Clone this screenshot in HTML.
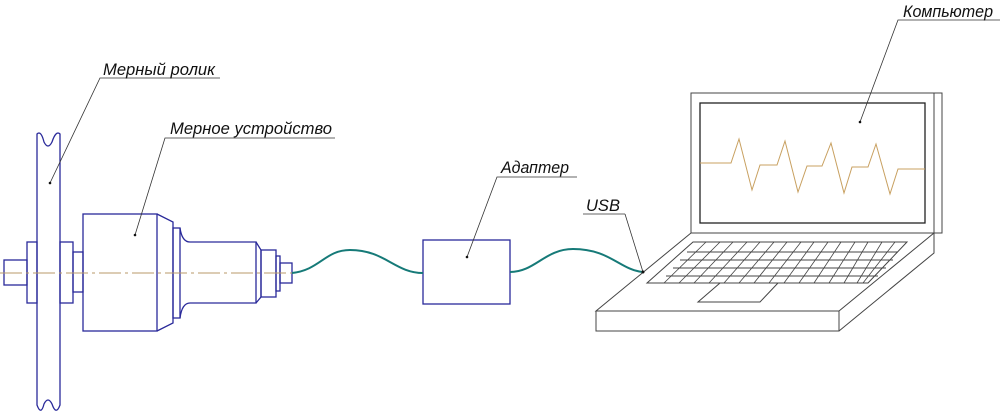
<!DOCTYPE html>
<html><head><meta charset="utf-8"><style>
html,body{margin:0;padding:0;background:#fff;width:1000px;height:412px;overflow:hidden}
svg{display:block}
text{font-family:"Liberation Sans",sans-serif;font-style:italic;font-size:17px;fill:#111}
</style></head><body>
<svg width="1000" height="412" viewBox="0 0 1000 412" xmlns="http://www.w3.org/2000/svg">
<g fill="none" stroke="#2a2a9a" stroke-width="1.3">
<!-- roller -->
<path d="M37,134 Q41,130 44,142 Q48,150 52,142 Q56,130 60,134 L60,405 Q56,416 52,404 Q48,396 44,404 Q41,416 37,405 Z"/>
<rect x="4" y="260" width="23" height="25"/>
<rect x="27" y="242" width="10" height="61"/>
<rect x="60" y="242" width="13" height="61"/>
<rect x="73" y="252" width="10" height="40"/>
<!-- body -->
<rect x="83" y="214" width="74" height="117"/>
<path d="M157,214 L173,222 L173,323 L157,331"/>
<rect x="173" y="228" width="7" height="90"/>
<path d="M180,228 Q182,242 190,242 L256,242 L256,303 L190,303 Q182,303 180,318"/>
<path d="M256,242 L261,250 L261,297 L256,303"/>
<rect x="261" y="250" width="15" height="47"/>
<rect x="276" y="256" width="4" height="35"/>
<rect x="280" y="263" width="12" height="20"/>
<!-- adapter -->
<rect x="423" y="240" width="87" height="64"/>
</g>
<line x1="0" y1="273" x2="292" y2="273" stroke="#b89a6a" stroke-width="1" stroke-dasharray="22,4,3,4"/>
<g fill="none" stroke="#167a78" stroke-width="2">
<path d="M292,273 C320,270 325,250 350,250 C385,250 395,273 423,273"/>
<path d="M510,272 C535,272 545,249 573,249 C610,249 620,270 643,272"/>
</g>
<!-- laptop -->
<g fill="none" stroke="#444" stroke-width="1">
<rect x="691" y="93" width="243" height="140"/>
<path d="M934,93 L942,93 L942,233 L934,233"/>
<rect x="700" y="103" width="225" height="120" stroke="#222" stroke-width="1.3"/>
<path d="M691,233 L596,311 L839,311 L934,233 M596,311 L596,331 L839,331 L839,311 M839,331 L934,253 L934,233"/>
<path d="M693,242 L907,242 L868,283 L647,283 Z M687,252 L898,252 M680,260 L893,260 M673,268 L886,268 M666,276 L878,276"/>
<g stroke-width="0.8">
<path d="M706,242 L664,283 M720,242 L679,283 M733,242 L694,283 M747,242 L709,283 M760,242 L724,283 M774,242 L739,283 M787,242 L754,283 M801,242 L769,283 M814,242 L784,283 M828,242 L799,283 M841,242 L814,283 M855,242 L829,283 M868,242 L844,283 M882,242 L857,283 M895,242 L863,283"/>
</g>
<path d="M720,283 L778,283 L760,302 L698,302 Z"/>
</g>
<polyline fill="none" stroke="#c8a060" stroke-width="1" points="700,163 731,163 739,139 752,190 760,165 777,165 785,141 798,192 807,166 822,166 831,143 844,193 852,167 868,167 876,144 890,194 898,169 925,169"/>
<!-- leaders -->
<g stroke="#333" stroke-width="0.8" fill="none">
<path d="M220,78 L100,78 L50,183"/>
<path d="M335,138 L165,138 L135,235"/>
<path d="M577,177 L497,177 L467,257"/>
<path d="M625,214 L583,214 M625,214 L643,272"/>
<path d="M1000,20 L898,20 L860,122"/>
</g>
<g fill="#111"><circle cx="50" cy="183" r="1.3"/><circle cx="135" cy="235" r="1.3"/><circle cx="467" cy="257" r="1.3"/><circle cx="643" cy="272" r="1.5"/><circle cx="860" cy="122" r="1.3"/></g>
<text x="103" y="75" textLength="112" lengthAdjust="spacingAndGlyphs">Мерный ролик</text>
<text x="170" y="134" textLength="162" lengthAdjust="spacingAndGlyphs">Мерное устройство</text>
<text x="501" y="173" textLength="68" lengthAdjust="spacingAndGlyphs">Адаптер</text>
<text x="586" y="211" textLength="34" lengthAdjust="spacingAndGlyphs">USB</text>
<text x="903" y="17" textLength="90" lengthAdjust="spacingAndGlyphs">Компьютер</text>
</svg>
</body></html>
